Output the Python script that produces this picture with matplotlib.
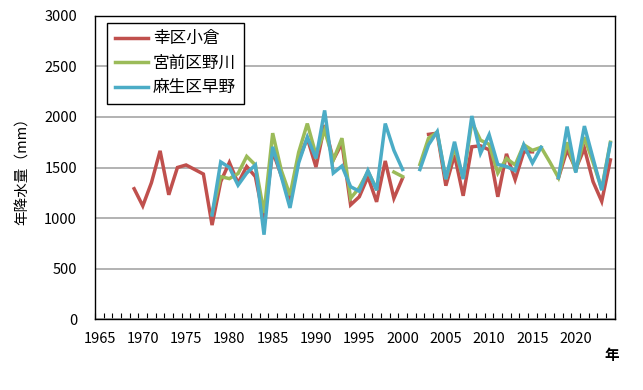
import numpy as np
import matplotlib.pyplot as plt

plt.rcParams['font.family'] = ['Noto Sans CJK JP', 'DejaVu Sans']

nan = np.nan
years = list(range(1969, 2025))

# 幸区小倉
saiwai = [1290, 1120, 1350, 1665, 1230, 1500, 1525, 1480, 1435, 930,
          1360, 1550, 1345, 1510, 1410, 980, 1660, 1420, 1175, 1575,
          1790, 1505, 1920, 1575, 1740, 1130, 1210, 1410, 1160, 1565,
          1195, 1395, nan, nan, 1828, 1840, 1320, 1625, 1220, 1705,
          1715, 1675, 1210, 1635, 1380, 1655, 1655, nan, nan, 1395,
          1675, 1485, 1690, 1360, 1165, 1575]
# 宮前区野川
miyamae = [nan, nan, nan, nan, nan, nan, nan, nan, nan, 1045,
           1410, 1390, 1440, 1610, 1525, 1050, 1840, 1470, 1225, 1650,
           1935, 1625, 1870, 1575, 1790, 1195, 1300, 1460, 1290, nan,
           1455, 1410, nan, 1530, 1790, 1850, 1385, 1700, 1390, 1950,
           1770, 1730, 1445, 1590, 1525, 1725, 1670, 1700, 1555, 1400,
           1750, 1460, 1800, 1550, 1290, 1750]
# 麻生区早野
asao = [nan, nan, nan, nan, nan, nan, nan, nan, nan, 1030,
        1555, 1500, 1325, 1445, 1525, 835, 1705, 1410, 1100, 1545,
        1800, 1590, 2065, 1445, 1515, 1310, 1265, 1470, 1275, 1935,
        1670, 1480, nan, 1480, 1725, 1855, 1385, 1755, 1385, 2010,
        1640, 1825, 1530, 1510, 1470, 1725, 1545, 1700, nan, 1400,
        1905, 1450, 1910, 1590, 1275, 1740]

series = [("幸区小倉", saiwai, "#C0504D"),
          ("宮前区野川", miyamae, "#9BBB59"),
          ("麻生区早野", asao, "#4BACC6")]

fig = plt.figure(figsize=(6.43, 3.9), dpi=100)
ax = fig.add_axes([0.148, 0.182, 0.808, 0.777])

for name, vals, color in series:
    ax.plot(years, vals, color=color, lw=2.5, label=name, solid_joinstyle='miter')

ax.set_xlim(1964.5, 2024.5)
ax.set_ylim(0, 3000)
ax.set_yticks(range(0, 3001, 500))
ax.set_xticks(range(1965, 2021, 5))
ax.set_xticks(np.arange(1964.5, 2025, 1), minor=True)
ax.tick_params(axis='x', which='major', length=0, pad=9, labelsize=10.5)
ax.tick_params(axis='x', which='minor', direction='in', length=4, width=0.8)
ax.tick_params(axis='y', length=0, pad=13, labelsize=10.5)

ax.grid(axis='y', color='#A6A6A6', lw=1.2)
ax.set_axisbelow(True)
for sp in ax.spines.values():
    sp.set_color('black')
    sp.set_linewidth(1.0)

ax.set_ylabel("年降水量（mm）", fontsize=10.5, labelpad=10)
fig.text(0.952, 0.09, "年", fontsize=10.5, fontweight='bold', ha='center', va='center')

leg = ax.legend(loc='upper left', bbox_to_anchor=(0.023, 0.977), borderaxespad=0,
                fontsize=12, handlelength=2.0, fancybox=False, framealpha=1,
                edgecolor='black', labelspacing=0.45, borderpad=0.45, handletextpad=0.3)
leg.get_frame().set_linewidth(1.0)

fig.savefig("out.png", dpi=100)
